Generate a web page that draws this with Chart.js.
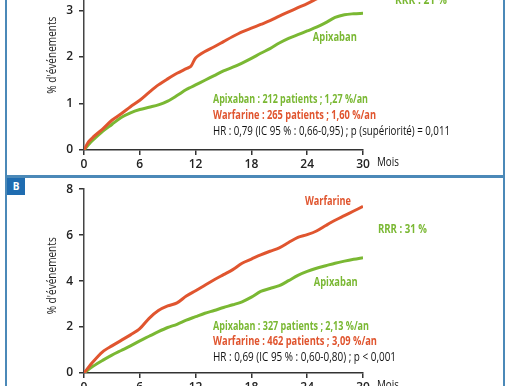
<!DOCTYPE html>
<html>
<head>
<meta charset="utf-8">
<script src="https://cdn.jsdelivr.net/npm/chart.js@4.4.1/dist/chart.umd.min.js"></script>
<style>
  html, body { margin: 0; padding: 0; background: #fff; }
  #page { position: relative; width: 510px; height: 386px; overflow: hidden; }
  canvas { position: absolute; left: 0; }
  #graficoA { top: -50px; }
  #graficoB { top: 176px; }
  .cadre { position: absolute; border: 2px solid #4b89b8; box-sizing: border-box; }
  #cadreA { left: 5px; top: -20px; width: 500px; height: 197px; }
  #cadreB { left: 5px; top: 176px; width: 500px; height: 240px; }
  #etiquetteB {
    position: absolute; left: 7px; top: 178px; width: 18px; height: 17px;
    background: #1f6cb0; color: #fff; font: bold 10px 'Open Sans', sans-serif;
    text-align: center; line-height: 17px;
  }
</style>
</head>
<body>
<div id="page">
  <canvas id="graficoA" width="510" height="226"></canvas>
  <canvas id="graficoB" width="510" height="230"></canvas>
  <div class="cadre" id="cadreA"></div>
  <div class="cadre" id="cadreB"></div>
  <div id="etiquetteB">B</div>
</div>
<script>
// Panneau A (haut) : mois et % d'événements
const moisA = [0, 0.5, 1, 2, 3, 4, 5, 6, 7, 8, 9, 10, 11, 11.5, 12, 13, 14, 15, 16, 17, 18, 19, 20, 21, 22, 23, 24, 25, 26, 27, 28, 29, 30];
const warfarineA = [0, 0.18, 0.28, 0.45, 0.64, 0.78, 0.93, 1.07, 1.24, 1.4, 1.53, 1.65, 1.75, 1.8, 1.98, 2.12, 2.22, 2.33, 2.44, 2.54, 2.62, 2.7, 2.78, 2.88, 2.97, 3.06, 3.15, 3.25, 3.35, 3.44, 3.52, 3.6, 3.68];
const apixabanA = [0, 0.12, 0.22, 0.4, 0.55, 0.7, 0.8, 0.87, 0.92, 0.97, 1.05, 1.17, 1.3, 1.35, 1.4, 1.5, 1.6, 1.7, 1.78, 1.87, 1.97, 2.08, 2.18, 2.3, 2.4, 2.48, 2.56, 2.64, 2.74, 2.85, 2.91, 2.93, 2.94];

// Panneau B
const moisB = [0, 1, 2, 3, 4, 5, 6, 7, 8, 9, 10, 11, 12, 13, 14, 15, 16, 17, 18, 19, 20, 21, 22, 23, 24, 25, 26, 27, 28, 29, 30];
const warfarineB = [0, 0.5, 0.92, 1.18, 1.42, 1.66, 1.93, 2.38, 2.72, 2.92, 3.05, 3.35, 3.58, 3.82, 4.06, 4.28, 4.5, 4.78, 4.96, 5.14, 5.3, 5.45, 5.68, 5.9, 6.02, 6.18, 6.42, 6.65, 6.85, 7.05, 7.25];
const apixabanB = [0, 0.3, 0.55, 0.78, 0.98, 1.18, 1.4, 1.6, 1.8, 1.98, 2.12, 2.3, 2.45, 2.6, 2.72, 2.85, 2.97, 3.1, 3.3, 3.55, 3.68, 3.8, 4.02, 4.25, 4.42, 4.56, 4.67, 4.78, 4.87, 4.95, 5.02];

// Graduations
const ticksX = [0, 6, 12, 18, 24, 30];
const ticksYA = [0, 1, 2, 3];
const ticksYB = [0, 2, 4, 6, 8];

const ROUGE = '#e0552f';
const VERT = '#7ab833';
const GRAS = "bold 12px 'Open Sans', sans-serif";
const NORMAL = "12px 'Open Sans', sans-serif";

// Plugin pour les textes dans et autour du graphique
const textesPlugin = {
  id: 'textes',
  afterDraw(chart, args, opts) {
    const { ctx, scales: { x, y } } = chart;
    ctx.save();
    ctx.textBaseline = 'middle';
    (opts.items || []).forEach(it => {
      ctx.font = it.font;
      ctx.fillStyle = it.color;
      const px = x.getPixelForValue(it.m);
      const py = y.getPixelForValue(it.v);
      if (it.rotation) {
        ctx.save();
        ctx.translate(px, py);
        ctx.rotate(-Math.PI / 2);
        ctx.textAlign = 'center';
        ctx.fillText(it.text, 0, 0, it.largeur);
        ctx.restore();
      } else {
        ctx.textAlign = 'left';
        ctx.fillText(it.text, px, py, it.largeur);
      }
    });
    ctx.restore();
  }
};

function serie(mois, valeurs) {
  return mois.map((m, i) => ({ x: m, y: valeurs[i] }));
}

function creerGraphique(id, mois, warf, apix, ticksY, maxY, padding, items) {
  const ctx = document.getElementById(id).getContext('2d');
  const police = { family: "'Open Sans', sans-serif", size: 12, weight: '600' };
  return new Chart(ctx, {
    type: 'line',
    data: {
      datasets: [
        { label: 'Warfarine', data: serie(mois, warf), borderColor: ROUGE, borderWidth: 3, pointRadius: 0, tension: 0.3, fill: false },
        { label: 'Apixaban', data: serie(mois, apix), borderColor: VERT, borderWidth: 3, pointRadius: 0, tension: 0.3, fill: false }
      ]
    },
    options: {
      responsive: false,
      animation: false,
      layout: { padding: padding },
      plugins: {
        legend: { display: false },
        tooltip: { enabled: false },
        textes: { items: items }
      },
      scales: {
        x: {
          type: 'linear',
          min: 0,
          max: 30,
          afterBuildTicks: s => { s.ticks = ticksX.map(v => ({ value: v })); },
          afterFit: s => { s.height = 26; },
          ticks: { color: '#222', font: police, padding: 2, maxRotation: 0 },
          grid: { drawOnChartArea: false, tickLength: 5, color: '#333', lineWidth: 1.5 },
          border: { display: true, color: '#333', width: 1.5 }
        },
        y: {
          min: 0,
          max: maxY,
          afterBuildTicks: s => { s.ticks = ticksY.map(v => ({ value: v })); },
          afterFit: s => { s.width = 84; },
          ticks: { color: '#222', font: police, padding: 6 },
          grid: { drawOnChartArea: false, tickLength: 5, color: '#333', lineWidth: 1.5 },
          border: { display: true, color: '#444', width: 1.5 }
        }
      }
    },
    plugins: [textesPlugin]
  });
}

// Panneau A
const graficoA = creerGraphique('graficoA', moisA, warfarineA, apixabanA, ticksYA, 4,
  { left: 0, right: 147, top: 14, bottom: 0 },
  [
    { text: 'RRR : 21 %', m: 33.44, v: 3.215, font: GRAS, color: VERT, largeur: 52 },
    { text: 'Apixaban', m: 24.6, v: 2.41, font: GRAS, color: VERT, largeur: 44 },
    { text: 'Apixaban : 212 patients ; 1,27 %/an', m: 13.87, v: 1.075, font: GRAS, color: VERT, largeur: 155 },
    { text: 'Warfarine : 265 patients ; 1,60 %/an', m: 13.87, v: 0.73, font: GRAS, color: ROUGE, largeur: 163 },
    { text: 'HR : 0,79 (IC 95 % : 0,66-0,95) ; p (supériorité) = 0,011', m: 13.87, v: 0.387, font: NORMAL, color: '#111', largeur: 237 },
    { text: 'Mois', m: 31.5, v: -0.28, font: NORMAL, color: '#111', largeur: 22 },
    { text: "% d'événements", m: -3.33, v: 2.04, font: NORMAL, color: '#222', largeur: 77, rotation: true }
  ]);

// Panneau B
const graficoB = creerGraphique('graficoB', moisB, warfarineB, apixabanB, ticksYB, 8,
  { left: 0, right: 147, top: 12, bottom: 7 },
  [
    { text: 'Warfarine', m: 23.76, v: 7.44, font: GRAS, color: ROUGE, largeur: 46 },
    { text: 'RRR : 31 %', m: 31.6, v: 6.26, font: GRAS, color: VERT, largeur: 49 },
    { text: 'Apixaban', m: 24.7, v: 3.94, font: GRAS, color: VERT, largeur: 44 },
    { text: 'Apixaban : 327 patients ; 2,13 %/an', m: 13.87, v: 2.0, font: GRAS, color: VERT, largeur: 156 },
    { text: 'Warfarine : 462 patients ; 3,09 %/an', m: 13.87, v: 1.35, font: GRAS, color: ROUGE, largeur: 164 },
    { text: 'HR : 0,69 (IC 95 % : 0,60-0,80) ; p < 0,001', m: 13.87, v: 0.66, font: NORMAL, color: '#111', largeur: 183 },
    { text: 'Mois', m: 31.5, v: -0.56, font: NORMAL, color: '#111', largeur: 22 },
    { text: "% d'événements", m: -3.33, v: 4.23, font: NORMAL, color: '#222', largeur: 77, rotation: true }
  ]);
</script>
</body>
</html>
